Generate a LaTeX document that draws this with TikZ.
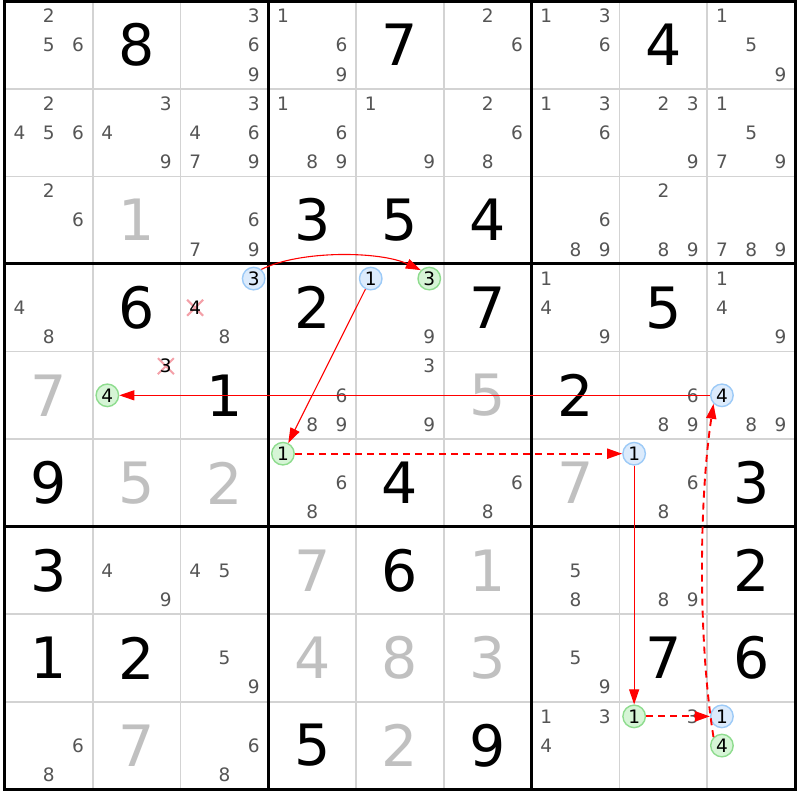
\documentclass[tikz,border=0pt]{standalone}
\usepackage{fontspec}
\setmainfont{DejaVu Sans}
\usetikzlibrary{arrows.meta}
\definecolor{candgray}{HTML}{555555}
\definecolor{solvedgray}{HTML}{C0C0C0}
\definecolor{gridgray}{HTML}{D3D3D3}
\definecolor{cblue}{HTML}{DCEBFC}
\definecolor{cblueb}{HTML}{9CCAF7}
\definecolor{cgreen}{HTML}{D6F5D6}
\definecolor{cgreenb}{HTML}{8EDC8E}
\definecolor{xpink}{HTML}{F4A0A8}
\def\gx{87.8}\def\gy{87.56}\def\xo{4.9}\def\yo{1.3}
\newcommand\candpos[3]{%
  \pgfmathsetmacro\cx{\xo+\gx*(#2-0.5)+(mod(#3-1,3)-1)*\gx/3}%
  \pgfmathsetmacro\cy{\yo+\gy*(#1-0.5)+(floor((#3-1)/3)-1)*\gy/3}}
\newcommand\cand[4][cand]{\candpos{#2}{#3}{#4}\node[#1] (c#2#3#4) at (\cx,\cy) {#4};}
\newcommand\gdig[4][given]{%
  \pgfmathsetmacro\cx{\xo+\gx*(#3-0.5)}%
  \pgfmathsetmacro\cy{\yo+\gy*(#2-0.5)}%
  \node[#1] (g#2#3) at (\cx,\cy) {#4};}
\begin{document}
\begin{tikzpicture}[x=1pt,y=-1pt,
 cand/.style={inner sep=0pt, text=candgray, font=\fontsize{18.5}{18.5}\selectfont},
 given/.style={inner sep=0pt, text=black, font=\fontsize{57}{57}\selectfont},
 solved/.style={given, text=solvedgray},
 bluec/.style={circle, inner sep=0pt, minimum size=22.5pt, draw=cblueb, fill=cblue, line width=1.4pt, text=black, font=\fontsize{18.5}{18.5}\selectfont},
 greenc/.style={bluec, draw=cgreenb, fill=cgreen},
 link/.style={draw=red, line width=1.1pt, -{Triangle[length=15pt,width=10pt]}},
 dlink/.style={link, dash pattern=on 7pt off 5pt, line width=1.9pt},
 xmark/.style={draw=xpink, line width=2pt},
 thin/.style={draw=gridgray, line width=1.8pt},
 thickline/.style={draw=black, line width=3pt}
]
\useasboundingbox (0,0) rectangle (800,800);
\fill[white] (0,0) rectangle (800,800);
% grid
\foreach \i in {1,2,4,5,7,8} {
  \draw[thin] (\xo+\i*\gx,\yo) -- (\xo+\i*\gx,\yo+9*\gy);
  \draw[thin] (\xo,\yo+\i*\gy) -- (\xo+9*\gx,\yo+\i*\gy);
}
\foreach \i in {3,6} {
  \draw[thickline] (\xo+\i*\gx,\yo) -- (\xo+\i*\gx,\yo+9*\gy);
  \draw[thickline] (\xo,\yo+\i*\gy) -- (\xo+9*\gx,\yo+\i*\gy);
}
\draw[thickline] (\xo,\yo) rectangle (\xo+9*\gx,\yo+9*\gy);
% givens
\foreach \r/\c/\v in {1/2/8,1/5/7,1/8/4,3/4/3,3/5/5,3/6/4,4/2/6,4/4/2,4/6/7,4/8/5,
  5/3/1,5/7/2,6/1/9,6/5/4,6/9/3,7/1/3,7/5/6,7/9/2,8/1/1,8/2/2,8/8/7,8/9/6,9/4/5,9/6/9}
  {\gdig{\r}{\c}{\v}}
% solved
\foreach \r/\c/\v in {3/2/1,5/1/7,5/6/5,6/2/5,6/3/2,6/7/7,7/4/7,7/6/1,8/4/4,8/5/8,8/6/3,9/2/7,9/5/2}
  {\gdig[solved]{\r}{\c}{\v}}
% candidates
\foreach \r/\c/\ds in {1/1/{2,5,6},1/3/{3,6,9},1/4/{1,6,9},1/6/{2,6},1/7/{1,3,6},1/9/{1,5,9},
  2/1/{2,4,5,6},2/2/{3,4,9},2/3/{3,4,6,7,9},2/4/{1,6,8,9},2/5/{1,9},2/6/{2,6,8},2/7/{1,3,6},2/8/{2,3,9},2/9/{1,5,7,9},
  3/1/{2,6},3/3/{6,7,9},3/7/{6,8,9},3/8/{2,8,9},3/9/{7,8,9},
  4/1/{4,8},4/3/{8},4/5/{9},4/7/{1,4,9},4/9/{1,4,9},
  5/4/{6,8,9},5/5/{3,9},5/8/{6,8,9},5/9/{8,9},
  6/4/{6,8},6/6/{6,8},6/8/{6,8},
  7/2/{4,9},7/3/{4,5},7/7/{5,8},7/8/{8,9},
  8/3/{5,9},8/7/{5,9},
  9/1/{6,8},9/3/{6,8},9/7/{1,3,4},9/8/{3}}
  {\foreach \d in \ds {\cand{\r}{\c}{\d}}}
% eliminated candidates
\candpos{4}{3}{4}
\draw[xmark] (\cx-8,\cy-8) -- (\cx+8,\cy+8) (\cx-8,\cy+8) -- (\cx+8,\cy-8);
\node[cand,text=black] (c434) at (\cx,\cy) {4};
\candpos{5}{2}{3}
\draw[xmark] (\cx-8,\cy-8) -- (\cx+8,\cy+8) (\cx-8,\cy+8) -- (\cx+8,\cy-8);
\node[cand,text=black] (c523) at (\cx,\cy) {3};
% chain candidates
\cand[bluec]{4}{3}{3}
\cand[greenc]{4}{5}{3}
\cand[bluec]{4}{5}{1}
\cand[greenc]{5}{2}{4}
\cand[bluec]{5}{9}{4}
\cand[greenc]{6}{4}{1}
\cand[bluec]{6}{8}{1}
\cand[greenc]{9}{8}{1}
\cand[bluec]{9}{9}{1}
\cand[greenc]{9}{9}{4}
% links
\draw[link] (c433.50) .. controls (300,250) and (380,251) .. (c453.north west);
\draw[link] (c451) -- (c641);
\draw[link] (c594) -- (c524);
\draw[dlink] (c641) -- (c681);
\draw[link] (c681) -- (c981);
\draw[dlink] (c981) -- (c991);
\draw[dlink] (c994.north west) .. controls (698,640) and (699,500) .. (c594.south west);
\end{tikzpicture}
\end{document}
